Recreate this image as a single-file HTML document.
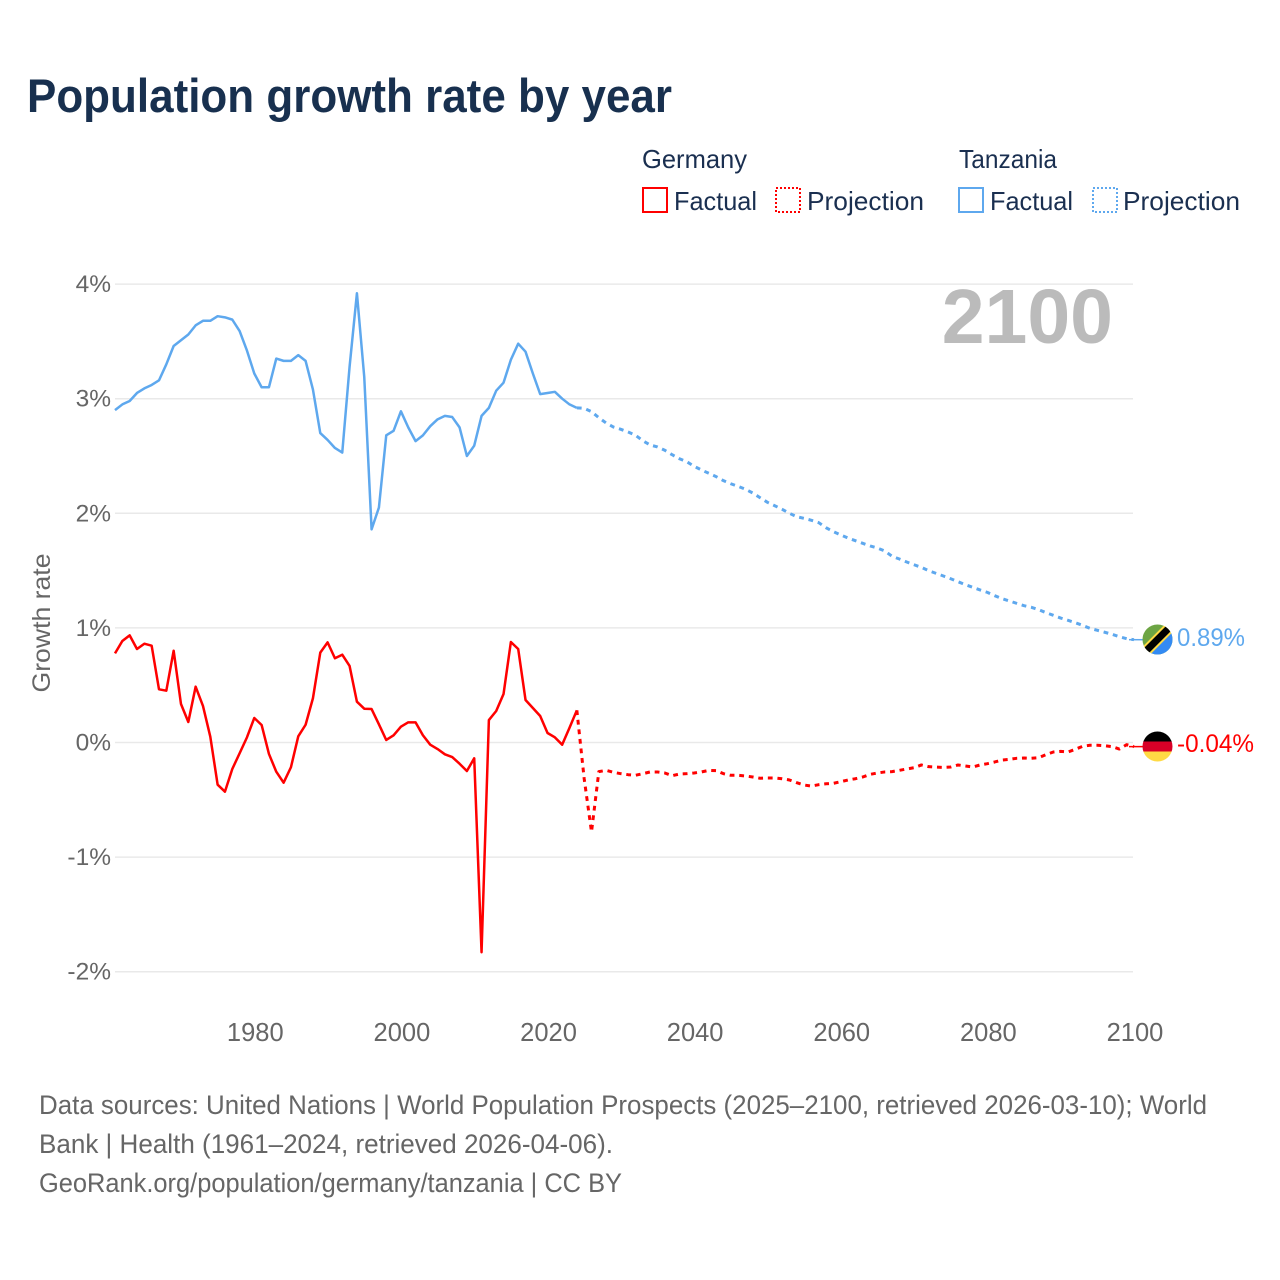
<!DOCTYPE html>
<html lang="en">
<head>
<meta charset="utf-8">
<title>Population growth rate by year</title>
<style>
html,body{margin:0;padding:0;background:#fff}
svg{display:block}
text{font-family:"Liberation Sans",sans-serif}
</style>
</head>
<body>
<svg id="chart" xmlns="http://www.w3.org/2000/svg" width="1280" height="1280" viewBox="0 0 1280 1280">
  <rect x="0" y="0" width="1280" height="1280" fill="#ffffff"/>
  <text x="27" y="112" font-size="47" font-weight="700" fill="#18304f" textLength="645" lengthAdjust="spacingAndGlyphs">Population growth rate by year</text>

  <g font-size="26" fill="#1a2f50">
    <text x="642" y="168" textLength="105" lengthAdjust="spacingAndGlyphs">Germany</text>
    <rect x="643" y="188" width="24" height="24" fill="none" stroke="#ff0000" stroke-width="2"/>
    <text x="674" y="210" textLength="83" lengthAdjust="spacingAndGlyphs">Factual</text>
    <rect x="776" y="188" width="24" height="24" fill="none" stroke="#ff0000" stroke-width="2" stroke-dasharray="2 2"/>
    <text x="807" y="210" textLength="117" lengthAdjust="spacingAndGlyphs">Projection</text>
    <text x="959" y="168" textLength="98" lengthAdjust="spacingAndGlyphs">Tanzania</text>
    <rect x="959" y="188" width="24" height="24" fill="none" stroke="#5ea8ee" stroke-width="2"/>
    <text x="990" y="210" textLength="83" lengthAdjust="spacingAndGlyphs">Factual</text>
    <rect x="1093" y="188" width="24" height="24" fill="none" stroke="#5ea8ee" stroke-width="2" stroke-dasharray="2 2"/>
    <text x="1123" y="210" textLength="117" lengthAdjust="spacingAndGlyphs">Projection</text>
  </g>

  <g id="grid"></g>
  <g id="yLabels" font-size="24.500" fill="#666666" text-anchor="end"></g>
  <g id="xLabels" font-size="25.500" fill="#666666" text-anchor="middle"></g>
  <text transform="translate(50 623) rotate(-90)" font-size="25" fill="#666666" text-anchor="middle" textLength="139" lengthAdjust="spacingAndGlyphs">Growth rate</text>
  <text x="1113" y="343" font-size="77" font-weight="700" fill="#bbbbbb" text-anchor="end">2100</text>

  <g id="series"></g>

  <g>
    <clipPath id="clipTz"><circle cx="1157.500" cy="639.500" r="15"/></clipPath>
    <g clip-path="url(#clipTz)">
      <rect x="1142" y="624" width="31" height="31" fill="#6da544"/>
      <polygon points="1173,624 1173,655 1142,655" fill="#338af3"/>
      <line x1="1140" y1="657" x2="1175" y2="622" stroke="#ffda44" stroke-width="11"/>
      <line x1="1140" y1="657" x2="1175" y2="622" stroke="#000000" stroke-width="7"/>
    </g>
  </g>
  <text id="tzValue" x="1177" y="646" font-size="25" fill="#5ea8ee" textLength="68" lengthAdjust="spacingAndGlyphs"></text>

  <g>
    <clipPath id="clipDe"><circle cx="1157.500" cy="746.500" r="15"/></clipPath>
    <g clip-path="url(#clipDe)">
      <rect x="1142" y="731" width="31" height="11" fill="#000000"/>
      <rect x="1142" y="741.500" width="31" height="10" fill="#d80027"/>
      <rect x="1142" y="751.500" width="31" height="11" fill="#ffda44"/>
    </g>
  </g>
  <text id="deValue" x="1177" y="752" font-size="25" fill="#ff0000" textLength="77" lengthAdjust="spacingAndGlyphs"></text>

  <g font-size="26.500" fill="#666666">
    <text x="39" y="1114" textLength="1168" lengthAdjust="spacingAndGlyphs">Data sources: United Nations | World Population Prospects (2025–2100, retrieved 2026-03-10); World</text>
    <text x="39" y="1153" textLength="574" lengthAdjust="spacingAndGlyphs">Bank | Health (1961–2024, retrieved 2026-04-06).</text>
    <text x="39" y="1192" textLength="583" lengthAdjust="spacingAndGlyphs">GeoRank.org/population/germany/tanzania | CC BY</text>
  </g>
</svg>

<script>
const firstFactualYear = 1961;
const firstProjectionYear = 2025;
const xTicks = [1980, 2000, 2020, 2040, 2060, 2080, 2100];
const yTicks = [4, 3, 2, 1, 0, -1, -2];
const tanzaniaFactual = [
  2.90,2.95,2.98,3.05,3.09,3.12,3.16,3.30,3.46,3.51,3.56,3.64,3.68,3.68,3.72,3.71,3.69,3.59,3.42,3.22,
  3.10,3.10,3.35,3.33,3.33,3.38,3.33,3.08,2.70,2.64,2.57,2.53,3.28,3.92,3.19,1.86,2.05,2.68,2.72,2.89,
  2.75,2.63,2.68,2.76,2.82,2.85,2.84,2.75,2.50,2.59,2.85,2.92,3.07,3.14,3.34,3.48,3.41,3.22,3.04,3.05,
  3.06,3.00,2.95,2.92
];
const tanzaniaProjection = [
  2.916,2.887,2.834,2.788,2.753,2.733,2.709,2.681,2.633,2.596,2.579,2.550,2.511,2.476,2.45,2.41,2.378,2.349,2.32,2.285,
  2.258,2.235,2.21,2.177,2.136,2.096,2.066,2.035,2.0,1.97,1.956,1.939,1.918,1.874,1.84,1.811,1.784,1.761,1.738,1.715,
  1.697,1.671,1.625,1.601,1.575,1.551,1.528,1.499,1.476,1.453,1.429,1.403,1.377,1.354,1.331,1.31,1.281,1.255,1.235,1.214,
  1.194,1.18,1.159,1.133,1.11,1.086,1.066,1.045,1.022,0.996,0.979,0.962,0.944,0.923,0.906,0.897
];
const germanyFactual = [
  0.778,0.886,0.935,0.816,0.862,0.845,0.464,0.452,0.801,0.336,0.179,0.487,0.319,0.051,-0.368,-0.429,-0.231,-0.094,0.045,0.214,
  0.153,-0.10,-0.255,-0.351,-0.216,0.054,0.155,0.386,0.784,0.874,0.735,0.766,0.668,0.356,0.295,0.292,0.159,0.022,0.063,0.138,
  0.176,0.176,0.063,-0.019,-0.057,-0.103,-0.127,-0.185,-0.249,-0.138,-1.83,0.196,0.275,0.423,0.877,0.816,0.371,0.301,0.231,0.083,
  0.045,-0.019,0.129,0.281
];
const germanyProjection = [
  -0.316,-0.78,-0.254,-0.243,-0.26,-0.272,-0.281,-0.286,-0.272,-0.257,-0.257,-0.266,-0.29,-0.275,-0.272,-0.266,-0.257,-0.243,-0.246,-0.272,
  -0.286,-0.286,-0.292,-0.301,-0.312,-0.31,-0.31,-0.316,-0.327,-0.351,-0.371,-0.38,-0.368,-0.36,-0.356,-0.342,-0.327,-0.316,-0.301,-0.278,
  -0.266,-0.257,-0.254,-0.243,-0.231,-0.22,-0.196,-0.211,-0.215,-0.217,-0.214,-0.196,-0.205,-0.214,-0.196,-0.185,-0.17,-0.153,-0.147,-0.138,
  -0.135,-0.138,-0.133,-0.106,-0.083,-0.077,-0.083,-0.059,-0.033,-0.024,-0.024,-0.028,-0.036,-0.057,-0.019,-0.036
];
const tanzaniaEndLabel = "0.89%";
const germanyEndLabel = "-0.04%";

const NS = "http://www.w3.org/2000/svg";
const xScale = function (year) { return 115 + (year - 1961) * (1134 - 115) / (2100 - 1961); };
const yScale = function (value) { return 742.5 - value * 114.6; };

const grid = document.getElementById("grid");
const yLabels = document.getElementById("yLabels");
const xLabels = document.getElementById("xLabels");
const seriesGroup = document.getElementById("series");

yTicks.forEach(function (tick) {
  const line = document.createElementNS(NS, "line");
  
  
  line.setAttribute("x1", 115);
  line.setAttribute("x2", 1133);
  line.setAttribute("y1", yScale(tick));
  line.setAttribute("y2", yScale(tick));
  line.setAttribute("stroke", "#e9e9e9");
  line.setAttribute("stroke-width", "1.5");
  grid.appendChild(line);
  const label = document.createElementNS(NS, "text");
  
  
  label.setAttribute("x", 111);
  label.setAttribute("y", yScale(tick) + 8);
  label.textContent = tick + "%";
  yLabels.appendChild(label);
});

xTicks.forEach(function (tick) {
  const label = document.createElementNS(NS, "text");
  
  
  label.setAttribute("x", xScale(tick) + 1);
  label.setAttribute("y", 1041);
  label.textContent = tick;
  xLabels.appendChild(label);
});

function pathFrom(points) {
  return points.map(function (p, i) {
    return (i ? "L" : "M") + xScale(p[0]).toFixed(2) + " " + yScale(p[1]).toFixed(2);
  }).join(" ");
}
function toPoints(startYear, values) {
  return values.map(function (v, i) { return [startYear + i, v]; });
}
function addLine(d, color, dash) {
  const path = document.createElementNS(NS, "path");
  path.setAttribute("d", d);
  path.setAttribute("fill", "none");
  path.setAttribute("stroke", color);
  path.setAttribute("stroke-width", dash ? "3" : "2.500");
  path.setAttribute("stroke-linejoin", "round");
  if (dash) path.setAttribute("stroke-dasharray", dash);
  seriesGroup.appendChild(path);
  return path;
}

const tzFactualPoints = toPoints(firstFactualYear, tanzaniaFactual);
const tzProjectionPoints = toPoints(firstProjectionYear, tanzaniaProjection);
const deFactualPoints = toPoints(firstFactualYear, germanyFactual);
const deProjectionPoints = toPoints(firstProjectionYear, germanyProjection);

const tzFactualLine = addLine(pathFrom(tzFactualPoints), "#5ea8ee", null);



const tzProjectionLine = addLine(pathFrom(tzFactualPoints.slice(-1).concat(tzProjectionPoints)), "#5ea8ee", "4.8 4.8");



const deFactualLine = addLine(pathFrom(deFactualPoints), "#ff0000", null);



const deProjectionLine = addLine(pathFrom(deFactualPoints.slice(-1).concat(deProjectionPoints)), "#ff0000", "4.8 4.8");



function addConnector(lastValue, color) {
  const c = document.createElementNS(NS, "line");
  c.setAttribute("x1", xScale(2100) - 5);
  c.setAttribute("x2", 1143);
  c.setAttribute("y1", yScale(lastValue));
  c.setAttribute("y2", yScale(lastValue));
  c.setAttribute("stroke", color);
  c.setAttribute("stroke-width", "1.5");
  seriesGroup.appendChild(c);
  return c;
}
const tzConnector = addConnector(tanzaniaProjection[tanzaniaProjection.length - 1], "#5ea8ee");



const deConnector = addConnector(germanyProjection[germanyProjection.length - 1], "#ff0000");



document.getElementById("tzValue").textContent = tanzaniaEndLabel;
document.getElementById("deValue").textContent = germanyEndLabel;
</script>
</body>
</html>
